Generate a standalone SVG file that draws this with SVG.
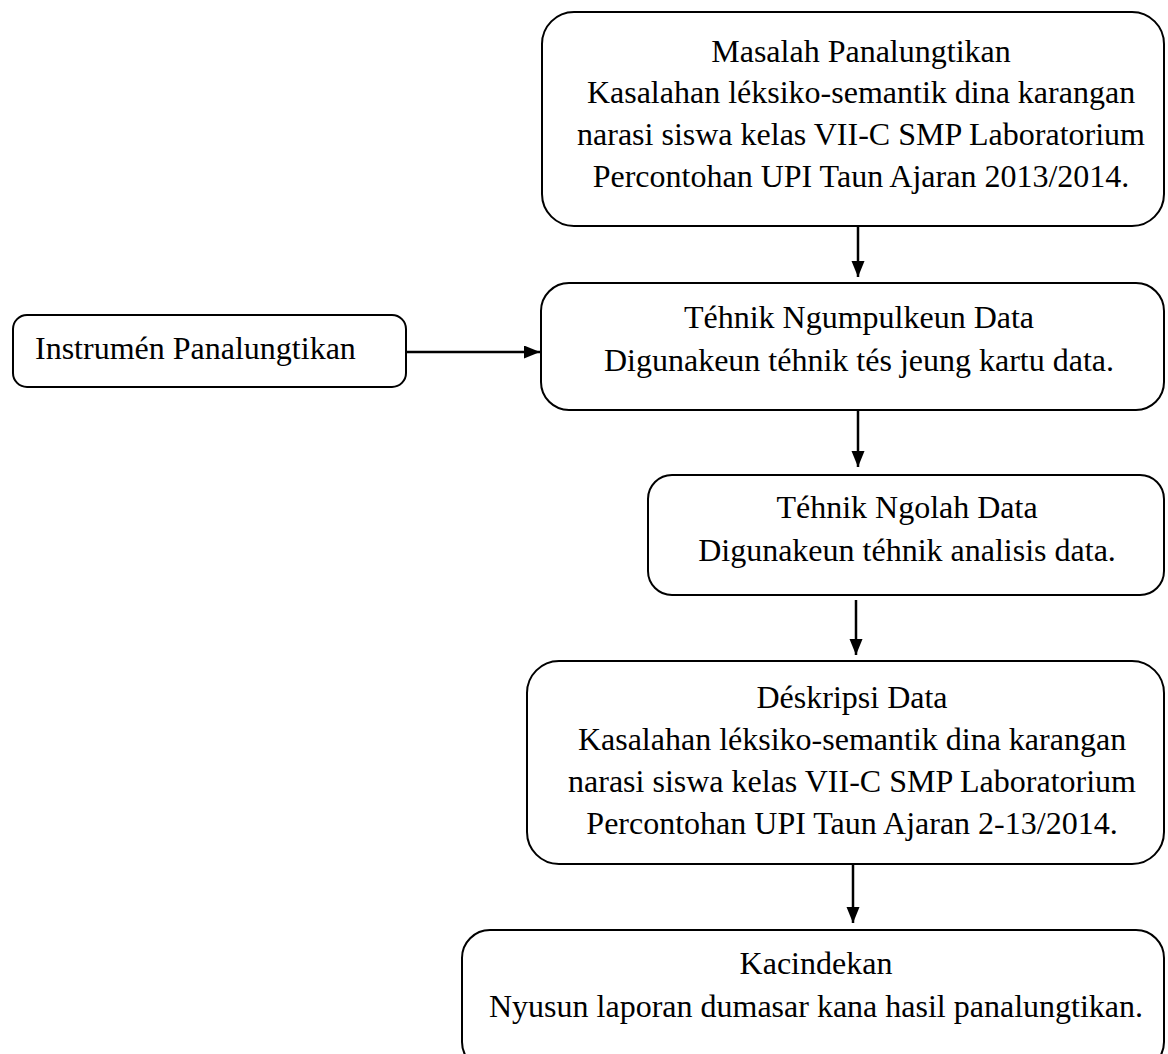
<svg xmlns="http://www.w3.org/2000/svg" width="1168" height="1054" viewBox="0 0 1168 1054">
<style>
.box{fill:#fff;stroke:#000;stroke-width:2}
.t{font-family:"Liberation Serif","Times New Roman",serif;font-size:32px;fill:#000;text-anchor:middle}
.tl{font-family:"Liberation Serif","Times New Roman",serif;font-size:32px;fill:#000}
.c{stroke:#000;stroke-width:2.5;fill:none;marker-end:url(#ah)}
</style>
<defs>
<marker id="ah" markerWidth="7" markerHeight="6" refX="6.4" refY="2.6" orient="auto" markerUnits="strokeWidth">
<path d="M0,0 L6.4,2.6 L0,5.2 Z" fill="#000"/>
</marker>
</defs>
<rect width="1168" height="1054" fill="#fff"/>
<g id="connectors">
<line class="c" x1="858" y1="227" x2="858" y2="277"/>
<line class="c" x1="407" y1="352" x2="540" y2="352"/>
<line class="c" x1="858" y1="411" x2="858" y2="467"/>
<line class="c" x1="856" y1="600" x2="856" y2="655"/>
<line class="c" x1="853" y1="865" x2="853" y2="923"/>
</g>
<g id="masalah">
<rect class="box" x="542" y="12" width="622" height="214" rx="32" ry="32"/>
<text class="t" x="861" y="62">Masalah Panalungtikan</text>
<text class="t" x="861" y="103">Kasalahan léksiko-semantik dina karangan</text>
<text class="t" x="861" y="145">narasi siswa kelas VII-C SMP Laboratorium</text>
<text class="t" x="861" y="187">Percontohan UPI Taun Ajaran 2013/2014.</text>
</g>
<g id="instrumen">
<rect class="box" x="13" y="315" width="393" height="72" rx="14" ry="14"/>
<text class="tl" x="35" y="359">Instrumén Panalungtikan</text>
</g>
<g id="ngumpulkeun">
<rect class="box" x="541" y="283" width="623" height="127" rx="28" ry="28"/>
<text class="t" x="859" y="328">Téhnik Ngumpulkeun Data</text>
<text class="t" x="859" y="371">Digunakeun téhnik tés jeung kartu data.</text>
</g>
<g id="ngolah">
<rect class="box" x="648" y="475" width="516" height="120" rx="24" ry="24"/>
<text class="t" x="907" y="518">Téhnik Ngolah Data</text>
<text class="t" x="907" y="561">Digunakeun téhnik analisis data.</text>
</g>
<g id="deskripsi">
<rect class="box" x="527" y="661" width="637" height="203" rx="32" ry="32"/>
<text class="t" x="852" y="708">Déskripsi Data</text>
<text class="t" x="852" y="750">Kasalahan léksiko-semantik dina karangan</text>
<text class="t" x="852" y="792">narasi siswa kelas VII-C SMP Laboratorium</text>
<text class="t" x="852" y="834">Percontohan UPI Taun Ajaran 2-13/2014.</text>
</g>
<g id="kacindekan">
<rect class="box" x="462" y="930" width="702" height="140" rx="28" ry="28"/>
<text class="t" x="816" y="974">Kacindekan</text>
<text class="t" x="816" y="1017">Nyusun laporan dumasar kana hasil panalungtikan.</text>
</g>
</svg>
